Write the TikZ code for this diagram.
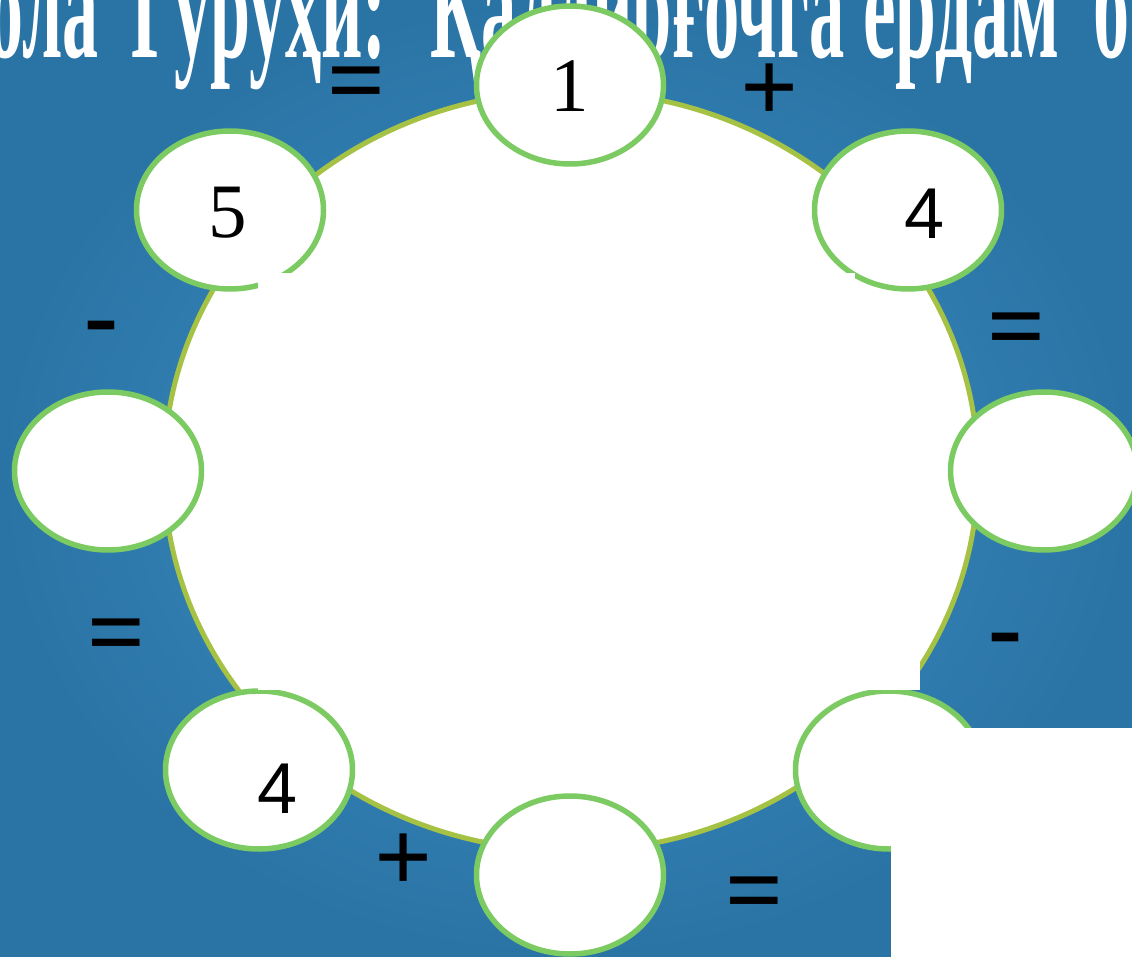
\documentclass[tikz,border=0pt]{standalone}
\usepackage{fontspec}
\setmainfont{Liberation Serif}
\newfontfamily\sansf{Liberation Sans}
\usetikzlibrary{shapes.geometric}
\definecolor{bgin}{HTML}{4093C6}
\definecolor{bgout}{HTML}{2A73A5}
\definecolor{ringcol}{HTML}{A6C244}
\definecolor{ellcol}{HTML}{7CCB62}
\tikzset{
  titletext/.style={text=white, inner sep=0pt, font=\fontsize{150}{150}\selectfont\bfseries},
  bubble/.style={ellipse, draw=ellcol, line width=5.5pt, fill=white, minimum width=187pt, minimum height=158pt, inner sep=0pt},
  serifdigit/.style={inner sep=0pt, anchor=base, font=\fontsize{77}{77}\selectfont},
  sansdigit/.style={inner sep=0pt, anchor=base, font=\sansf\fontsize{72}{72}\selectfont},
  op/.style={inner sep=0pt, anchor=base, font=\fontsize{102}{102}\selectfont\bfseries},
  cover/.style={fill=white, draw=none}
}
\begin{document}
\begin{tikzpicture}[x=1pt,y=-1pt]
\useasboundingbox (0,0) rectangle (1132,957);
\clip (0,0) rectangle (1132,957);
\shade[inner color=bgin, outer color=bgout] (0,0) rectangle (1132,957);
% title
\node[titletext, anchor=base east] (t1) at (99,58) {\scalebox{0.48}[1]{ола}};
\node[titletext, anchor=base west] (t2) at (131,58) {\scalebox{0.48}[1]{Гуруҳи:}};
\node[titletext, anchor=base west] (t3) at (430,58) {\scalebox{0.47}[1]{Қалдирғочга}};
\node[titletext, anchor=base west] (t4) at (863,58) {\scalebox{0.49}[1]{ердам}};
\node[titletext, anchor=base west] (t5) at (1093,58) {\scalebox{0.48}[1]{б}};
% big ring
\node[ellipse, draw=ringcol, line width=5pt, fill=white, minimum width=814pt, minimum height=760pt, inner sep=0pt] (ring) at (571,471) {};
% bubbles
\node[bubble] (b1) at (570,85) {};
\node[bubble] (b2) at (908,210) {};
\node[bubble] (b3) at (1044,471) {};
\node[bubble] (b4) at (889,770) {};
\node[bubble] (b5) at (570,875) {};
\node[bubble] (b6) at (259,770) {};
\node[bubble] (b7) at (108,471) {};
\node[bubble] (b8) at (230,210) {};
% white covers
\fill[cover] (258,273) rectangle (855,690);
\fill[cover] (855,292) rectangle (920,690);
\fill[cover] (891,728) rectangle (1132,957);
% digits
\node[serifdigit] (d1) at (570,112) {1};
\node[serifdigit] (d8) at (228,238) {5};
\node[sansdigit] (d2) at (925,239) {4};
\node[sansdigit] (d6) at (278,813) {4};
% operators
\node[op] (o1) at (357,115) {=};
\node[op] (o2) at (770,122) {+};
\node[op] (o3) at (1017,360) {=};
\node[op] (o4) at (1005,661) {-};
\node[op] (o5) at (755,924) {=};
\node[op] (o6) at (404,891) {+};
\node[op] (o7) at (117,666) {=};
\node[op] (o8) at (101,350) {-};
\end{tikzpicture}
\end{document}
